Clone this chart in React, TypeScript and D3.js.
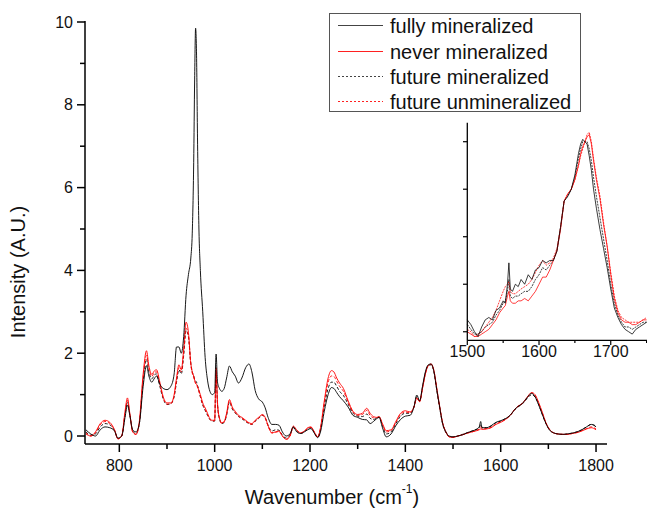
import React from "react";
import * as d3 from "d3";

// ---------- main spectrum data ----------
const wavenumbers = [730,740,750,760,770,780,790,797,805,812,817,822,828,835,842,850,857,862,868,874,878,885,892,900,908,915,920,925,930,935,940,945,950,953,956,958,960,962,964,967,970,975,980,985,990,995,1000,1003,1006,1010,1015,1020,1025,1031,1037,1043,1050,1057,1065,1072,1078,1085,1092,1100,1106,1112,1120,1128,1135,1142,1150,1158,1165,1172,1180,1188,1195,1202,1210,1216,1222,1230,1238,1245,1250,1256,1262,1270,1280,1290,1300,1310,1319,1326,1333,1340,1345,1352,1360,1370,1380,1390,1400,1410,1418,1424,1430,1436,1442,1448,1454,1460,1466,1472,1478,1485,1492,1500,1510,1520,1530,1540,1550,1555,1558,1561,1570,1580,1590,1600,1610,1620,1630,1636,1645,1655,1665,1672,1680,1688,1695,1702,1710,1720,1730,1740,1750,1760,1770,1780,1790,1800];

const fullyMineralized = [0.15,0.05,0.0,0.15,0.22,0.2,0.12,-0.05,0.0,0.45,0.75,0.5,0.15,0.1,0.3,1.2,1.7,1.45,1.3,1.4,1.45,1.25,1.15,1.12,1.2,1.5,2.15,2.15,2.0,2.4,3.4,3.9,4.3,4.9,6.6,8.6,9.85,9.2,7.2,5.0,4.0,3.0,1.9,1.35,1.08,1.0,1.05,1.98,1.3,1.15,1.08,1.15,1.4,1.69,1.55,1.45,1.28,1.4,1.65,1.74,1.55,1.1,0.9,0.82,0.68,0.45,0.28,0.28,0.26,0.1,0.0,0.05,0.22,0.1,0.06,0.1,0.15,0.18,0.05,-0.04,0.1,0.6,1.0,1.17,1.15,1.05,0.95,0.85,0.7,0.5,0.45,0.4,0.39,0.3,0.35,0.42,0.45,0.2,-0.02,0.05,0.25,0.4,0.48,0.5,0.7,0.99,0.85,1.2,1.55,1.72,1.74,1.55,1.11,0.7,0.31,0.1,0.0,-0.02,0.0,0.03,0.08,0.12,0.17,0.22,0.35,0.2,0.2,0.25,0.33,0.37,0.42,0.5,0.65,0.71,0.78,0.92,1.03,0.95,0.74,0.5,0.3,0.15,0.08,0.05,0.04,0.05,0.07,0.1,0.15,0.22,0.28,0.22];

const neverMineralized = [0.05,0.0,0.1,0.3,0.38,0.33,0.15,-0.07,0.0,0.6,0.92,0.55,0.1,0.04,0.35,1.5,2.06,1.7,1.49,1.58,1.6,1.3,0.95,0.8,0.8,1.0,1.4,1.72,1.6,2.1,2.75,2.5,1.75,1.55,1.45,1.35,1.28,1.25,1.2,1.1,1.0,0.8,0.68,0.55,0.42,0.38,0.38,1.65,0.8,0.44,0.32,0.35,0.55,0.88,0.7,0.6,0.5,0.45,0.38,0.32,0.3,0.38,0.45,0.52,0.45,0.25,0.08,0.1,0.12,0.0,-0.08,0.0,0.24,0.15,0.08,0.12,0.2,0.22,0.08,-0.02,0.2,0.85,1.4,1.58,1.55,1.4,1.28,1.15,0.85,0.6,0.52,0.55,0.67,0.55,0.47,0.45,0.47,0.3,0.13,0.15,0.35,0.55,0.61,0.58,0.7,0.91,0.83,1.15,1.5,1.7,1.74,1.58,1.15,0.72,0.33,0.1,-0.02,-0.03,0.0,0.03,0.07,0.1,0.13,0.15,0.17,0.16,0.17,0.2,0.28,0.33,0.4,0.5,0.65,0.72,0.78,0.93,1.05,1.0,0.8,0.55,0.32,0.17,0.08,0.05,0.04,0.04,0.06,0.08,0.12,0.17,0.2,0.15];

const futureMineralized = [0.1,0.02,0.05,0.22,0.3,0.27,0.13,-0.06,0.0,0.5,0.82,0.52,0.12,0.06,0.3,1.35,1.85,1.55,1.38,1.48,1.5,1.2,0.9,0.76,0.78,0.95,1.3,1.6,1.5,1.95,2.55,2.4,1.75,1.55,1.45,1.38,1.33,1.3,1.22,1.1,0.95,0.75,0.62,0.5,0.4,0.36,0.36,1.5,0.75,0.42,0.3,0.33,0.5,0.82,0.65,0.56,0.47,0.42,0.35,0.3,0.28,0.36,0.42,0.5,0.44,0.26,0.12,0.15,0.14,0.02,-0.05,0.02,0.2,0.12,0.06,0.1,0.17,0.2,0.06,-0.03,0.15,0.72,1.15,1.3,1.3,1.2,1.08,0.98,0.77,0.55,0.48,0.47,0.53,0.43,0.4,0.43,0.46,0.25,0.05,0.1,0.3,0.48,0.55,0.55,0.7,0.95,0.84,1.18,1.52,1.7,1.72,1.55,1.1,0.68,0.3,0.08,-0.02,-0.03,0.0,0.04,0.08,0.12,0.16,0.2,0.28,0.2,0.2,0.24,0.32,0.36,0.42,0.5,0.64,0.7,0.77,0.9,1.0,0.94,0.75,0.5,0.3,0.16,0.08,0.05,0.04,0.05,0.07,0.1,0.15,0.22,0.28,0.24];

const futureUnmineralized = [0.08,0.0,0.08,0.27,0.35,0.3,0.14,-0.07,0.0,0.55,0.86,0.53,0.1,0.04,0.33,1.42,1.95,1.62,1.44,1.54,1.55,1.25,0.92,0.77,0.78,0.97,1.35,1.65,1.55,2.0,2.6,2.42,1.72,1.52,1.42,1.33,1.27,1.24,1.18,1.07,0.95,0.76,0.64,0.52,0.4,0.36,0.37,1.55,0.76,0.42,0.3,0.34,0.52,0.85,0.67,0.57,0.48,0.43,0.36,0.3,0.28,0.36,0.43,0.5,0.43,0.24,0.07,0.09,0.11,0.0,-0.08,0.0,0.22,0.14,0.07,0.11,0.18,0.21,0.07,-0.03,0.18,0.8,1.3,1.45,1.44,1.32,1.2,1.08,0.82,0.58,0.5,0.52,0.62,0.5,0.44,0.44,0.46,0.28,0.1,0.13,0.33,0.52,0.58,0.56,0.7,0.92,0.83,1.16,1.5,1.7,1.73,1.57,1.13,0.7,0.32,0.1,-0.02,-0.03,0.0,0.03,0.07,0.1,0.14,0.17,0.22,0.17,0.18,0.21,0.29,0.34,0.4,0.5,0.65,0.71,0.78,0.92,1.04,0.98,0.78,0.53,0.31,0.16,0.08,0.05,0.04,0.04,0.06,0.09,0.13,0.18,0.22,0.17];

// ---------- inset (amide I region) data ----------
const insetWavenumbers = [1500,1505,1510,1515,1520,1525,1530,1535,1540,1545,1550,1553,1556,1558,1560,1563,1567,1571,1575,1580,1585,1590,1595,1600,1605,1610,1615,1620,1625,1630,1635,1640,1645,1650,1655,1658,1661,1664,1667,1670,1673,1676,1680,1685,1690,1695,1700,1705,1710,1715,1720,1725,1730,1735,1740,1745,1750];

const insetFully = [0.05,0.03,0.0,-0.02,0.02,0.05,0.06,0.05,0.09,0.1,0.13,0.12,0.2,0.29,0.18,0.17,0.2,0.19,0.22,0.2,0.24,0.22,0.26,0.27,0.3,0.29,0.3,0.3,0.34,0.44,0.55,0.57,0.6,0.66,0.75,0.79,0.81,0.8,0.79,0.74,0.68,0.6,0.52,0.43,0.35,0.27,0.18,0.1,0.06,0.03,0.01,0.0,-0.01,0.01,0.02,0.03,0.04];
const insetNever = [0.0,-0.01,-0.02,-0.02,-0.01,0.0,0.01,0.03,0.05,0.08,0.1,0.11,0.15,0.17,0.13,0.12,0.12,0.13,0.13,0.14,0.13,0.15,0.17,0.2,0.23,0.23,0.26,0.3,0.34,0.43,0.55,0.58,0.6,0.64,0.7,0.75,0.78,0.8,0.82,0.83,0.79,0.72,0.64,0.56,0.45,0.36,0.24,0.14,0.08,0.05,0.04,0.04,0.03,0.03,0.04,0.05,0.05];
const insetFutureMin = [0.03,0.01,-0.01,-0.01,0.0,0.02,0.03,0.04,0.07,0.09,0.12,0.13,0.17,0.22,0.15,0.14,0.15,0.15,0.16,0.17,0.17,0.19,0.22,0.24,0.27,0.26,0.28,0.3,0.34,0.44,0.55,0.57,0.6,0.65,0.73,0.77,0.8,0.8,0.8,0.77,0.72,0.65,0.57,0.48,0.39,0.3,0.2,0.12,0.07,0.04,0.02,0.02,0.01,0.02,0.03,0.04,0.04];
const insetFutureUnmin = [0.01,0.0,-0.02,-0.01,0.0,0.02,0.04,0.06,0.09,0.13,0.17,0.19,0.2,0.21,0.17,0.16,0.16,0.17,0.18,0.19,0.2,0.22,0.25,0.28,0.3,0.28,0.29,0.31,0.35,0.44,0.55,0.58,0.6,0.64,0.7,0.74,0.77,0.8,0.83,0.84,0.8,0.73,0.65,0.57,0.46,0.36,0.25,0.15,0.09,0.06,0.05,0.04,0.04,0.04,0.04,0.05,0.06];

const legendLabels = ["fully mineralized", "never mineralized", "future mineralized", "future unmineralized"];
const xTickValues = [800, 1000, 1200, 1400, 1600, 1800];
const xMinorValues = [900, 1100, 1300, 1500, 1700];
const yTickValues = [0, 2, 4, 6, 8, 10];
const yMinorValues = [1, 3, 5, 7, 9];
const insetXTicks = [1500, 1600, 1700];
const insetXMinor = [1550, 1650, 1750];
const insetYTicks = [0, 0.2, 0.4, 0.6, 0.8];

const FONT = "'Liberation Sans', Arial, sans-serif";

export default function App() {
  const W = 647, H = 512;
  const x = d3.scaleLinear().domain([728, 1823]).range([85, 607]);
  const y = d3.scaleLinear().domain([-0.193, 10]).range([444, 22]);

  const ix = d3.scaleLinear().domain([1500, 1750]).range([467.3, 646.6]);
  const iy = d3.scaleLinear().domain([-0.036, 0.88]).range([340.3, 122.7]);

  const series = [
    { name: legendLabels[0], values: fullyMineralized, inset: insetFully, color: "#000", legendColor: "#444", dash: null },
    { name: legendLabels[1], values: neverMineralized, inset: insetNever, color: "#ff0000", legendColor: "#ff2020", dash: null },
    { name: legendLabels[2], values: futureMineralized, inset: insetFutureMin, color: "#000", legendColor: "#444", dash: "3,2" },
    { name: legendLabels[3], values: futureUnmineralized, inset: insetFutureUnmin, color: "#ff0000", legendColor: "#ff2020", dash: "3,2" },
  ];

  const mainLine = d3.line<number>()
    .x((_, i) => x(wavenumbers[i]))
    .y((d) => y(d))
    .curve(d3.curveMonotoneX);
  const insetLine = d3.line<number>()
    .x((_, i) => ix(insetWavenumbers[i]))
    .y((d) => iy(d))
    .curve(d3.curveLinear);

  const drawOrder = [2, 3, 1, 0];
  const legendRows = [25.5, 51.5, 76.5, 101.5];

  return (
    <svg width={W} height={H} style={{ position: "absolute", left: 0, top: 0, background: "#fff" }} fontFamily={FONT}>
      <rect x={0} y={0} width={W} height={H} fill="#fff" />
      {/* main curves */}
      {drawOrder.map((k) => {
        const s = series[k];
        return (
          <path key={"m" + k} d={mainLine(s.values) || ""} fill="none" stroke={s.color}
            strokeWidth={1} strokeDasharray={s.dash || undefined} strokeOpacity={0.9} />
        );
      })}

      {/* main axes */}
      <line x1={85} x2={607} y1={444} y2={444} stroke="#000" strokeWidth={1.5} />
      <line x1={85} x2={85} y1={21} y2={444} stroke="#000" strokeWidth={1.5} />
      {xTickValues.map((t) => (
        <g key={"xt" + t}>
          <line x1={x(t)} x2={x(t)} y1={444} y2={452} stroke="#000" strokeWidth={1.5} />
          <text x={x(t)} y={465} textAnchor="middle" dominantBaseline="central" fontSize={16} fill="#111">{t}</text>
        </g>
      ))}
      {xMinorValues.map((t) => (
        <line key={"xm" + t} x1={x(t)} x2={x(t)} y1={444} y2={449} stroke="#000" strokeWidth={1.5} />
      ))}
      {yTickValues.map((t) => (
        <g key={"yt" + t}>
          <line x1={77} x2={85} y1={y(t)} y2={y(t)} stroke="#000" strokeWidth={1.5} />
          <text x={73} y={y(t)} textAnchor="end" dominantBaseline="central" fontSize={16} fill="#111">{t}</text>
        </g>
      ))}
      {yMinorValues.map((t) => (
        <line key={"ym" + t} x1={80} x2={85} y1={y(t)} y2={y(t)} stroke="#000" strokeWidth={1.5} />
      ))}
      <text x={332} y={497} textAnchor="middle" dominantBaseline="central" fontSize={20} fill="#111">
        Wavenumber (cm<tspan fontSize={12} dy={-8}>-1</tspan><tspan dy={8}>)</tspan>
      </text>
      <text transform="translate(18,272) rotate(-90)" textAnchor="middle" dominantBaseline="central" fontSize={20} fill="#111">
        Intensity (A.U.)
      </text>

      {/* legend */}
      <rect x={329.5} y={13.5} width={251} height={98} fill="#fff" stroke="#555" strokeWidth={1} />
      {series.map((s, i) => {
        const cy = legendRows[i];
        return (
          <g key={"lg" + i}>
            <line x1={338} x2={383} y1={cy} y2={cy} stroke={s.legendColor} strokeWidth={1}
              strokeDasharray={s.dash ? "2,2" : undefined} />
            <text x={390} y={cy} dominantBaseline="central" fontSize={20} fill="#111">{s.name}</text>
          </g>
        );
      })}

      {/* inset */}
      {drawOrder.map((k) => {
        const s = series[k];
        return (
          <path key={"i" + k} d={insetLine(s.inset) || ""} fill="none" stroke={s.color}
            strokeWidth={0.9} strokeDasharray={s.dash ? "2,1" : undefined} strokeOpacity={0.85} />
        );
      })}
      <line x1={467.3} x2={647} y1={340.3} y2={340.3} stroke="#000" strokeWidth={1.3} />
      <line x1={467.3} x2={467.3} y1={122.7} y2={340.3} stroke="#000" strokeWidth={1.3} />
      {insetXTicks.map((t) => (
        <g key={"ixt" + t}>
          <line x1={ix(t)} x2={ix(t)} y1={340.3} y2={345} stroke="#000" strokeWidth={1.2} />
          <text x={ix(t)} y={351} textAnchor="middle" dominantBaseline="central" fontSize={16} fill="#111">{t}</text>
        </g>
      ))}
      {insetXMinor.map((t) => (
        <line key={"ixm" + t} x1={ix(t)} x2={ix(t)} y1={340.3} y2={343} stroke="#000" strokeWidth={1.2} />
      ))}
      {insetYTicks.map((t) => (
        <line key={"iyt" + t} x1={463} x2={467.3} y1={iy(t)} y2={iy(t)} stroke="#000" strokeWidth={1.2} />
      ))}
    </svg>
  );
}
